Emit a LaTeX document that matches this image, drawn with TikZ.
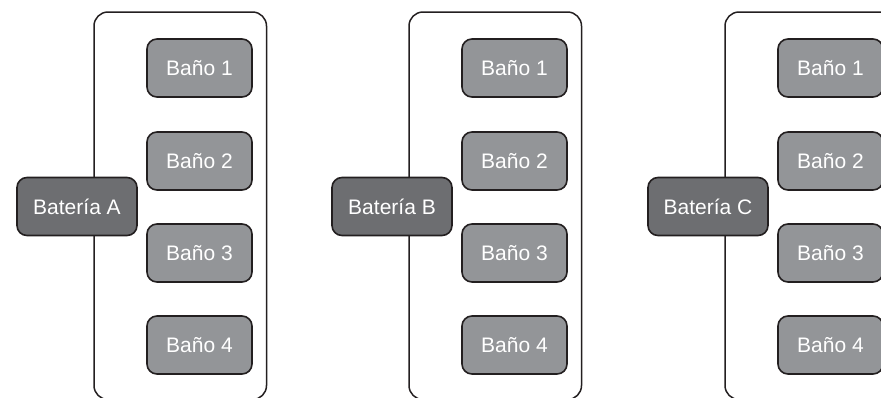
\documentclass[tikz,border=0pt]{standalone}
\usepackage{fontspec}
\setmainfont{Liberation Sans}
\definecolor{bano}{HTML}{939598}
\definecolor{bat}{HTML}{6D6E71}
\definecolor{edge}{HTML}{231F20}
\tikzset{
  banobox/.style={draw=edge, line width=1.6pt, fill=bano, rounded corners=10pt, minimum width=105pt, minimum height=58pt, text=white, font=\fontsize{21}{24}\selectfont, inner sep=0pt},
  batbox/.style={draw=edge, line width=1.6pt, fill=bat, rounded corners=10pt, minimum width=120pt, minimum height=58pt, text=white, font=\fontsize{21}{24}\selectfont, inner sep=0pt},
  frameline/.style={draw=edge, line width=1.5pt, rounded corners=14pt}
}
\begin{document}
\begin{tikzpicture}[x=1pt,y=-1pt]
\useasboundingbox (0,0) rectangle (881,397);
\foreach \off/\L in {0/A,315/B,631/C}{
  \begin{scope}[xshift=\off pt]
    \draw[frameline] (94,12) rectangle (266.5,399.5);
    \node[banobox] (b1\L) at (199.5,68) {Baño 1};
    \node[banobox] (b2\L) at (199.5,161) {Baño 2};
    \node[banobox] (b3\L) at (199.5,253) {Baño 3};
    \node[banobox] (b4\L) at (199.5,345) {Baño 4};
    \node[batbox] (bat\L) at (77,206.5) {Batería \L};
  \end{scope}
}
\end{tikzpicture}
\end{document}
